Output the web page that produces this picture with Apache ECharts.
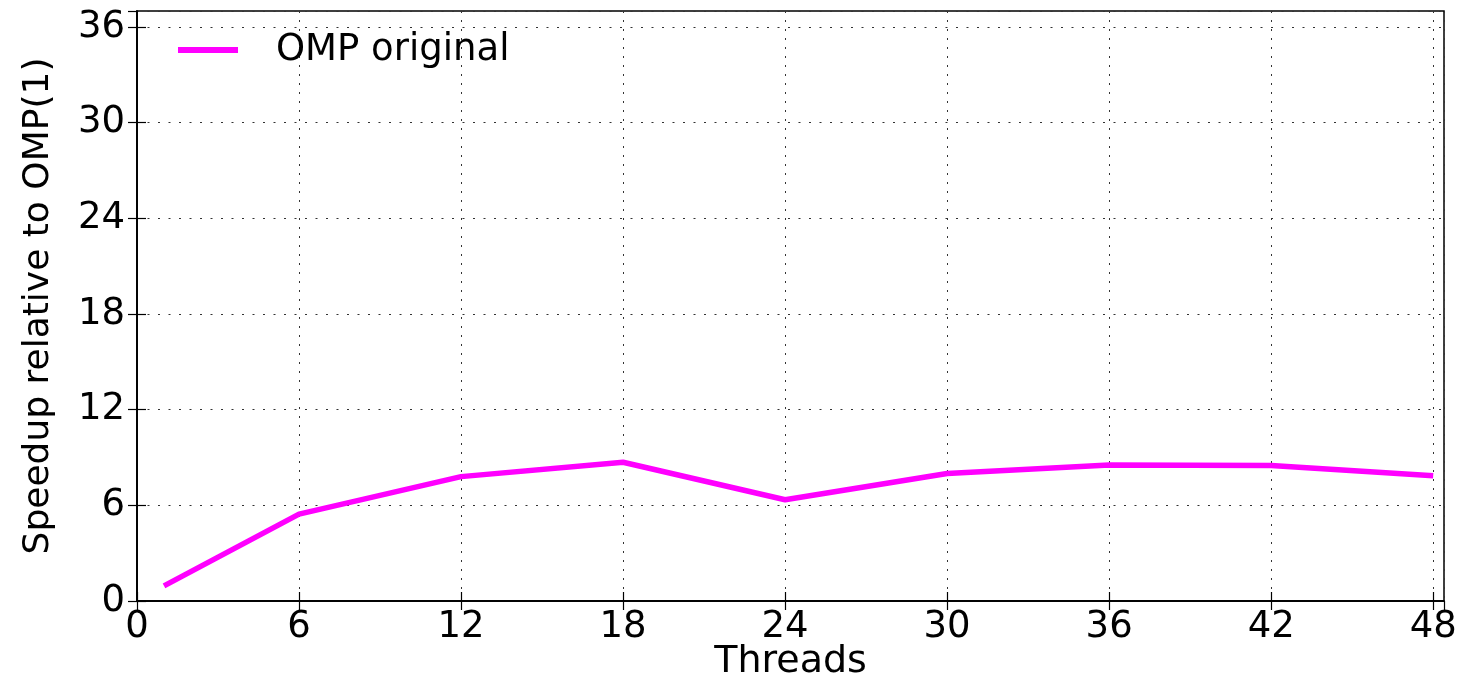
<!DOCTYPE html>
<html>
<head>
<meta charset="utf-8">
<script src="https://cdn.jsdelivr.net/npm/echarts@6/dist/echarts.min.js"></script>
<style>html,body{margin:0;padding:0;background:#fff;}#c{width:1459px;height:677px;}</style>
</head>
<body>
<div id="c"></div>
<script>
const threads = [1, 6, 12, 18, 24, 30, 36, 42, 48];
const ompOriginal = [0.95, 5.45, 7.8, 8.7, 6.35, 8.0, 8.53, 8.5, 7.85];
const seriesName = 'OMP original';
const xTitle = 'Threads';
const yTitle = 'Speedup relative to OMP(1)';

const font = 'DejaVu Sans';
const chart = echarts.init(document.getElementById('c'), null, {renderer: 'canvas'});
const tickCommon = {show: true, inside: true, length: 9, lineStyle: {color: '#000', width: 1.2}};
chart.setOption({
  animation: false,
  backgroundColor: '#fff',
  grid: {left: 137, right: 15, top: 11, bottom: 76, outerBoundsMode: 'none', containLabel: false, show: true, borderColor: '#000', borderWidth: 1.5, backgroundColor: 'transparent'},
  legend: {
    left: 178, top: 30, padding: 0,
    data: [{name: seriesName, icon: 'rect'}],
    itemWidth: 60, itemHeight: 6,
    textStyle: {fontFamily: font, fontSize: 37, color: '#000', lineHeight: 40, padding: [0, 0, 0, 33]}
  },
  xAxis: [{
    type: 'value', min: 0, max: 48.4, interval: 6, position: 'bottom',
    name: xTitle, nameLocation: 'middle', nameGap: 42, nameMoveOverlap: false,
    nameTextStyle: {fontFamily: font, fontSize: 38, color: '#000'},
    axisLine: {show: true, lineStyle: {color: '#000', width: 1.5}},
    axisTick: tickCommon,
    axisLabel: {fontFamily: font, fontSize: 37, color: '#000', margin: 8, showMaxLabel: false},
    splitLine: {show: true, lineStyle: {color: '#333', width: 1, type: [2, 7]}}
  }, {
    type: 'value', min: 0, max: 48.4, interval: 6, position: 'top',
    axisLine: {show: true, lineStyle: {color: '#000', width: 1.5}},
    axisTick: tickCommon, axisLabel: {show: false}, splitLine: {show: false}
  }],
  yAxis: [{
    type: 'value', min: 0, max: 37, interval: 6, position: 'left',
    name: yTitle, nameLocation: 'middle', nameGap: 80, nameRotate: 90, nameMoveOverlap: false,
    nameTextStyle: {fontFamily: font, fontSize: 36, color: '#000'},
    axisLine: {show: true, lineStyle: {color: '#000', width: 1.5}},
    axisTick: tickCommon,
    axisLabel: {fontFamily: font, fontSize: 37, color: '#000', margin: 12, showMaxLabel: false},
    splitLine: {show: true, lineStyle: {color: '#333', width: 1, type: [2, 8.5]}}
  }, {
    type: 'value', min: 0, max: 37, interval: 6, position: 'right',
    axisLine: {show: true, lineStyle: {color: '#000', width: 1.5}},
    axisTick: tickCommon, axisLabel: {show: false}, splitLine: {show: false}
  }],
  series: [{
    name: seriesName, type: 'line', xAxisIndex: 0, yAxisIndex: 0,
    data: threads.map((t, i) => [t, ompOriginal[i]]),
    showSymbol: false, symbol: 'none', smooth: false,
    lineStyle: {color: '#ff00ff', width: 5.5},
    itemStyle: {color: '#ff00ff'}
  }]
});
</script>
</body>
</html>
